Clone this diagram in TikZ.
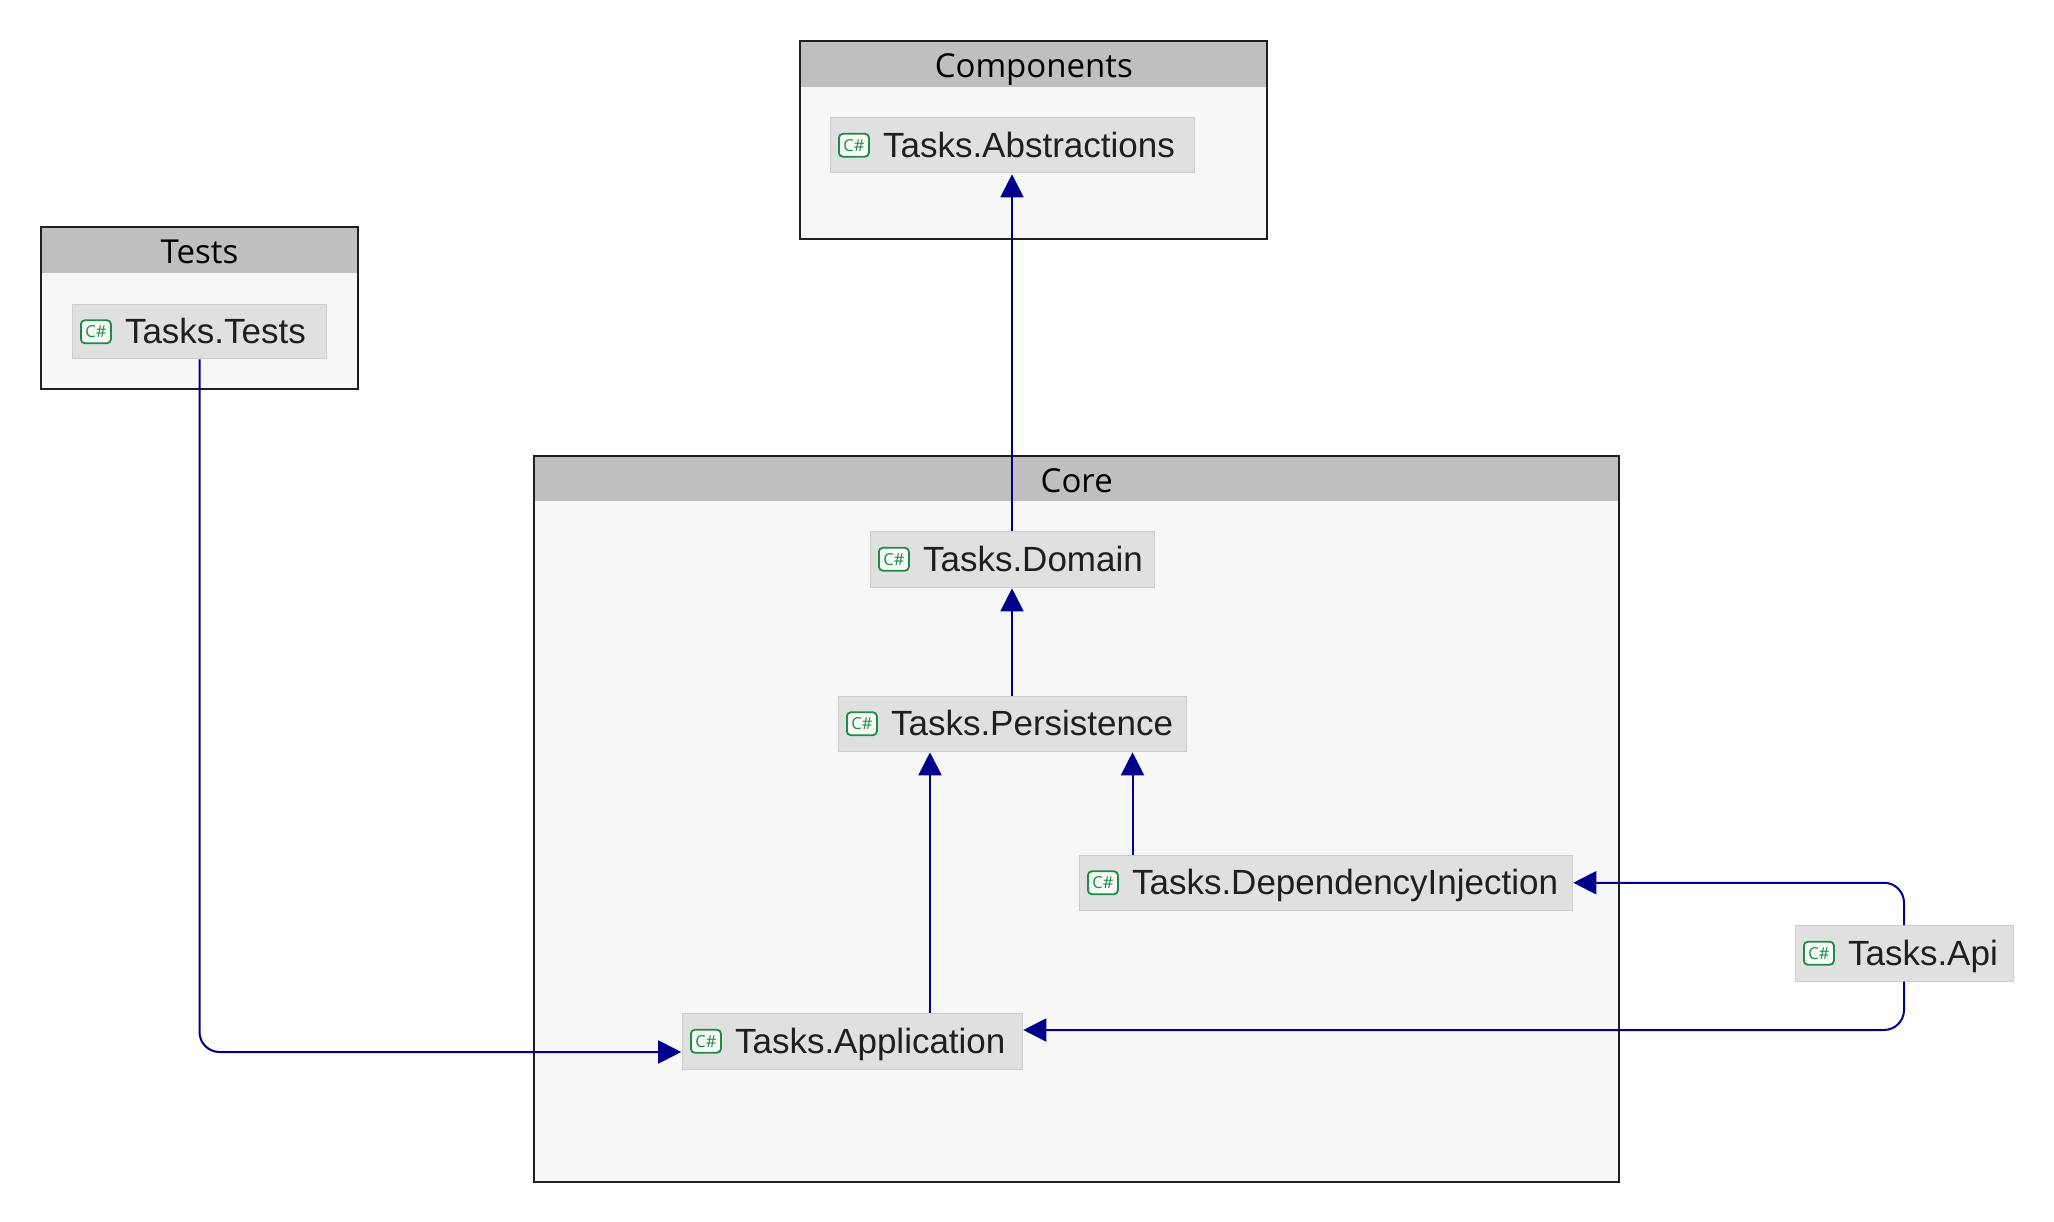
\documentclass[tikz,border=0pt]{standalone}
\usepackage{fontspec}
\setmainfont{Liberation Sans}
\newfontfamily\titlefont{Open Sans}
\usetikzlibrary{arrows.meta,calc}
\definecolor{grpfill}{HTML}{F7F7F7}
\definecolor{hdrfill}{HTML}{BFBFBF}
\definecolor{boxfill}{HTML}{E0E0E0}
\definecolor{boxline}{HTML}{CDCDCD}
\definecolor{boxtext}{HTML}{1F1F1F}
\definecolor{edgeblue}{HTML}{00008B}
\definecolor{csgreen}{HTML}{1E8A44}
\definecolor{csfill}{HTML}{F6FBF7}
\tikzset{
  grpbody/.style={rectangle,fill=grpfill,inner sep=0pt},
  grphead/.style={rectangle,fill=hdrfill,inner sep=0pt,text=black,
    font=\titlefont\fontsize{33}{33}\selectfont,text height=34pt,text depth=7pt},
  grpline/.style={draw=black!88,line width=2pt},
  prjbox/.style={rectangle,fill=boxfill,draw=boxline,line width=1pt,inner sep=0pt,
    text=boxtext,font=\fontsize{35}{35}\selectfont,text height=31pt,text depth=7pt},
  csicon/.style={rectangle,rounded corners=4pt,draw=csgreen,fill=csfill,line width=1.8pt,
    minimum width=30pt,minimum height=23pt,inner sep=0pt,text=csgreen,
    font=\titlefont\fontsize{16.5}{16.5}\selectfont},
  dep/.style={draw=edgeblue,line width=2pt,rounded corners=20pt,shorten >=0.8pt,
    -{Triangle[length=23pt,width=23pt,fill=edgeblue]}},
}
% name, left, top, right, bottom, text
\newcommand{\prj}[6]{%
  \pgfmathsetmacro{\prjw}{#4-#2}%
  \node[prjbox,minimum width=\prjw pt,minimum height=#5pt-#3pt] (#1) at ({(#2+#4)/2},{(#3+#5)/2})
    {\makebox[\prjw pt][l]{\hspace{52.5pt}#6}};%
  \node[csicon,anchor=west] (#1icon) at ($(#1.west)+(8,0)$) {C\#};%
}
% name, left, top, right, bottom, header bottom, title
\newcommand{\grp}[7]{%
  \node[grpbody,minimum width=#4pt-#2pt,minimum height=#5pt-#3pt] (#1) at ({(#2+#4)/2},{(#3+#5)/2}) {};%
  \node[grphead,minimum width=#4pt-#2pt,minimum height=#6pt-#3pt] (#1head) at ({(#2+#4)/2},{(#3+#6)/2}) {#7};%
  \draw[grpline] (#1.north west) rectangle (#1.south east);%
}
\begin{document}
\begin{tikzpicture}[x=1pt,y=-1pt]
\useasboundingbox (0,0) rectangle (2054,1222);
\fill[white] (0,0) rectangle (2054,1222);
\grp{comp}{800.5}{41.5}{1267}{239}{87}{Components}
\grp{tst}{41}{227.5}{358}{389}{273}{Tests}
\grp{core}{534.5}{456}{1619}{1181.5}{501}{Core}
\prj{abs}{830.5}{117.5}{1194}{173}{Tasks.Abstractions}
\prj{tests}{72.5}{304.5}{326}{359}{Tasks.Tests}
\prj{dom}{870.5}{531.5}{1154}{587}{Tasks.Domain}
\prj{pers}{838.5}{696.5}{1186}{751}{Tasks.Persistence}
\prj{di}{1079.5}{855.5}{1572}{910}{Tasks.DependencyInjection}
\prj{app}{682.5}{1013.5}{1022}{1069}{Tasks.Application}
\prj{api}{1795.5}{925.5}{2013}{981}{Tasks.Api}
\coordinate (xa) at (930,0);
\coordinate (xb) at (1132.5,0);
\coordinate (xc) at (1012,0);
\coordinate (xd) at (1904,0);
\coordinate (xe) at (199.5,0);
\coordinate (ya) at (0,1030);
\coordinate (yb) at (0,1052);
\draw[dep] (dom.north -| xc) -- (abs.south -| xc);
\draw[dep] (pers.north -| xc) -- (dom.south -| xc);
\draw[dep] (app.north -| xa) -- (pers.south -| xa);
\draw[dep] (di.north -| xb) -- (pers.south -| xb);
\draw[dep] (api.north -| xd) |- (di.east);
\draw[dep] (api.south -| xd) |- (app.east |- ya);
\draw[dep] (tests.south -| xe) |- (app.west |- yb);
\end{tikzpicture}
\end{document}
